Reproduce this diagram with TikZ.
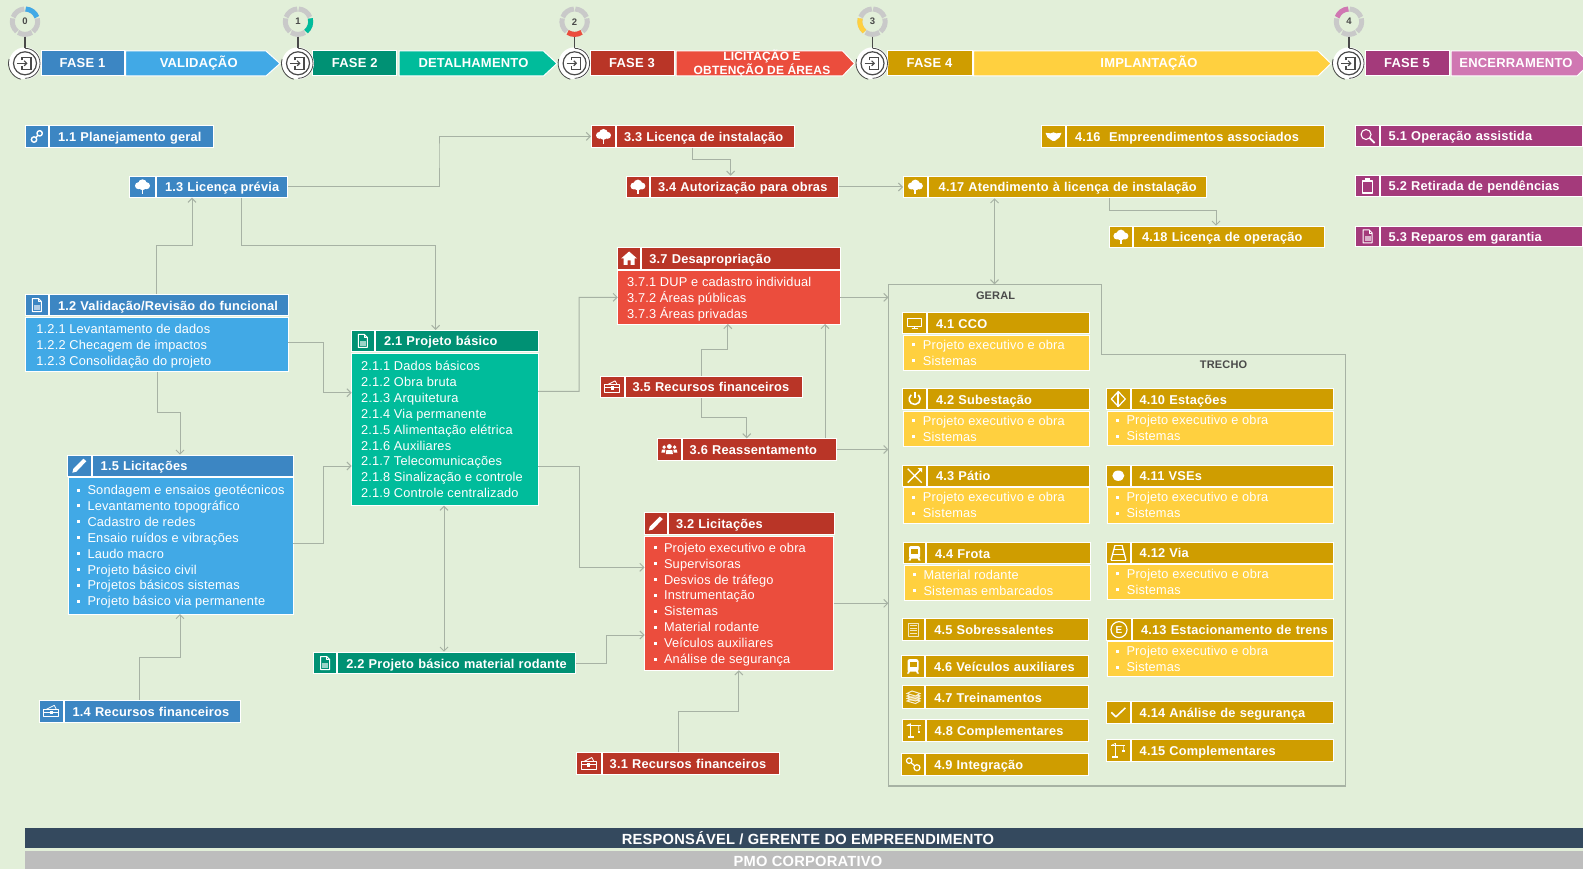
\documentclass[tikz,border=0pt]{standalone}
\usepackage{fontspec}
\setmainfont[LetterSpace=1.5]{Liberation Sans}
\usetikzlibrary{arrows.meta}

\definecolor{pagebg}{HTML}{E2EFD9}
\definecolor{bluehead}{HTML}{3C86C3}
\definecolor{bluebody}{HTML}{41A9E6}
\definecolor{greenhead}{HTML}{009174}
\definecolor{greenbody}{HTML}{00BC9B}
\definecolor{redhead}{HTML}{B93527}
\definecolor{redbody}{HTML}{EB4D3D}
\definecolor{goldhead}{HTML}{CF9D00}
\definecolor{goldbody}{HTML}{FFD03F}
\definecolor{purplehead}{HTML}{A43A7B}
\definecolor{purplebody}{HTML}{D077B2}
\definecolor{linegray}{HTML}{A7B2A4}
\definecolor{ringgray}{HTML}{C9C9C9}
\definecolor{stagedark}{HTML}{4A4A4A}
\definecolor{footdark}{HTML}{34495E}
\definecolor{footgray}{HTML}{BDBDBD}

\tikzset{
  taskframe/.style={fill=white,draw=none,inner sep=0pt,outer sep=0pt},
  iconcell/.style={draw=none,inner sep=0pt,outer sep=0pt},
  labelcell/.style={draw=none,inner ysep=0pt,outer sep=0pt,align=left,text=white,text height=10pt,text depth=0pt,
    font=\fontsize{12.8}{15.9}\selectfont\bfseries},
  bodycell/.style={draw=white,line width=1pt,inner ysep=0pt,outer sep=0pt,align=left,text=white,
    font=\fontsize{12.8}{15.9}\selectfont},
  phasecell/.style={draw=white,line width=1pt,inner sep=0pt,outer sep=0pt,minimum height=25pt,text=white,
    font=\fontsize{13}{13.4}\selectfont\bfseries},
  phasetext/.style={inner sep=0pt,align=center,text=white,font=\fontsize{13}{13.2}\selectfont\bfseries},
  flow/.style={draw=linegray,line width=1pt,-{Straight Barb[length=4pt,width=8pt]}},
  flowboth/.style={draw=linegray,line width=1pt,{Straight Barb[length=4pt,width=8pt]}-{Straight Barb[length=4pt,width=8pt]}},
  groupframe/.style={draw=linegray,line width=1.2pt},
  grouptitle/.style={inner sep=0pt,text=stagedark,font=\fontsize{11}{12}\selectfont\bfseries},
  stagenode/.style={circle,fill=white,draw=stagedark,line width=1.2pt,minimum size=23pt,inner sep=0pt,outer sep=0pt},
  ringnode/.style={circle,inner sep=0pt,outer sep=0pt,minimum size=30pt,text=stagedark,font=\fontsize{9.5}{10}\selectfont\bfseries},
  iconline/.style={draw=white,line width=1pt,line join=round},
  footbar/.style={inner sep=0pt,outer sep=0pt,text=white,font=\fontsize{14.7}{15}\selectfont\bfseries},
  pics/stagearcs/.style={code={
    \fill[white] (0,0) circle (16);
    \draw[stagedark,line width=.8pt] (-90:15) arc (-90:90:15);
    \draw[stagedark,line width=.8pt] (105:16.5) arc (105:195:16.5);
  }},
  pics/stageicon/.style={code={
    \draw[stagedark,line width=1.2pt] (-3,-3) -- (-3,-6) -- (6,-6) -- (6,6) -- (-3,6) -- (-3,3);
    \draw[stagedark,line width=1.2pt,-{Straight Barb[length=2.5pt,width=5pt]}] (-8,0) -- (2.5,0);
  }},
  pics/icontree/.style={code={
    \fill[white] (-4,-1) circle (3.5) (4,-1) circle (3.5) (0,-3) circle (4.4) (0,0) circle (3.5);
    \fill[white] (-.9,0) rectangle (.9,7.5);
  }},
  pics/icondoc/.style={code={
    \draw[iconline] (-4.5,-6.5) -- (1.5,-6.5) -- (4.5,-3.5) -- (4.5,6.5) -- (-4.5,6.5) -- cycle;
    \draw[iconline,line width=.6pt] (1.5,-6.5) -- (1.5,-3.5) -- (4.5,-3.5);
    \fill[white,opacity=.6] (-3,0) rectangle (3,5);
  }},
  pics/iconlink/.style={code={
    \draw[iconline,line width=1.4pt] (2.8,-3) circle (2.7) (-2.8,3.2) circle (2.7);
    \draw[iconline,line width=1.4pt] (-1,1.2) -- (1,-1);
  }},
  pics/iconpencil/.style={code={
    \fill[white] (-7,7) -- (-6,3) -- (4,-7) -- (7,-4.5) -- (-3,6) -- cycle;
  }},
  pics/iconmoney/.style={code={
    \draw[iconline,line width=.8pt] (-7.5,-2) rectangle (7.5,5.5);
    \draw[iconline,line width=.8pt] (-5,-2) -- (3,-6) -- (5,-2);
    \draw[iconline,line width=.8pt] (-7.5,.8) -- (7.5,.8);
    \fill[white] (-1.5,-.5) rectangle (1.5,3);
  }},
  pics/iconhouse/.style={code={
    \fill[white] (0,-7) -- (8,0) -- (5.5,0) -- (5.5,6.5) -- (1.5,6.5) -- (1.5,2) -- (-1.5,2) -- (-1.5,6.5) -- (-5.5,6.5) -- (-5.5,0) -- (-8,0) -- cycle;
  }},
  pics/iconpeople/.style={code={
    \fill[white] (0,-3) circle (2.4) (-5.2,-2.4) circle (1.9) (5.2,-2.4) circle (1.9);
    \fill[white] (-3.5,4.5) -- (-3,.5) -- (3,.5) -- (3.5,4.5) -- cycle;
    \fill[white] (-8,3) -- (-7.4,0) -- (-4,0) -- (-4.3,3) -- cycle (8,3) -- (7.4,0) -- (4,0) -- (4.3,3) -- cycle;
  }},
  pics/iconscreen/.style={code={
    \draw[iconline] (-7,-5) rectangle (7,3);
    \draw[iconline] (0,3) -- (0,5.5) (-3,5.5) -- (3,5.5);
  }},
  pics/iconpower/.style={code={
    \draw[iconline,line width=1.6pt] (-50:5.5) arc (-50:230:5.5);
    \draw[iconline,line width=1.6pt] (0,-7) -- (0,-1);
  }},
  pics/iconcross/.style={code={
    \draw[iconline,line width=1.4pt] (-7,-7) -- (7,7) (7,-7) -- (-7,7);
    \fill[white] (3,-7.5) -- (7.5,-7.5) -- (7.5,-3) -- cycle;
  }},
  pics/icontrain/.style={code={
    \fill[white,rounded corners=2pt] (-5.5,-7) rectangle (5.5,5.5);
    \fill[goldhead] (-3.5,-4.5) rectangle (3.5,.5);
    \fill[white] (-5,5) -- (-6,7.5) -- (-4,7.5) -- (-3,5) -- cycle (5,5) -- (6,7.5) -- (4,7.5) -- (3,5) -- cycle;
  }},
  pics/iconlist/.style={code={
    \draw[iconline,line width=.7pt,white!75!goldhead] (-5,-6.5) rectangle (5,6.5);
    \foreach \y in {-4,-1.5,1,3.5}
      \draw[iconline,line width=.7pt,white!75!goldhead] (-3.5,\y) -- (3.5,\y);
  }},
  pics/iconbooks/.style={code={
    \foreach \y in {4,1.5,-1,-3.5}
      \draw[white!85!goldhead,fill=goldhead,line width=1pt] (-6.5,\y) -- (2,\y+2.5) -- (6.5,\y) -- (-1.5,\y-2.5) -- cycle;
    \fill[white!85!goldhead,opacity=.5] (-6,-1) rectangle (6,4);
  }},
  pics/iconcrane/.style={code={
    \draw[iconline,line width=1.4pt] (-7,-5) -- (7,-5) (-3,-7) -- (-3,6.5) (-6,6.5) -- (0,6.5);
    \draw[iconline,line width=.7pt] (5,-5) -- (5,0) (-3,-7) -- (-7,-5);
    \fill[white] (4,0) rectangle (6.5,2);
  }},
  pics/iconchain/.style={code={
    \draw[iconline,line width=1.2pt] (-4,-3.5) circle (2.7) (3.8,3.5) circle (3);
    \draw[iconline,line width=1.2pt] (-2,-1.5) -- (1.5,1.5);
  }},
  pics/iconstation/.style={code={
    \draw[iconline,line width=1.2pt] (0,-7.5) -- (7,0) -- (0,7.5) -- (-7,0) -- cycle;
    \draw[iconline,line width=2pt] (0,-7.5) -- (0,7.5);
  }},
  pics/icondot/.style={code={
    \fill[white] (0,0) ellipse (6 and 5.2);
  }},
  pics/icontrack/.style={code={
    \draw[iconline,line width=1.3pt] (-3.5,-7.5) -- (-7.5,7.5) (3.5,-7.5) -- (7.5,7.5);
    \draw[iconline,line width=1.3pt] (-3.5,-7.5) -- (3.5,-7.5) (-4.6,-3) -- (4.6,-3) (-6,2) -- (6,2) (-7.5,7.5) -- (7.5,7.5);
  }},
  pics/iconeuro/.style={code={
    \node[circle,draw=white,line width=1.2pt,inner sep=0pt,minimum size=16pt,text=white,font=\fontsize{10}{10}\selectfont\bfseries] (#1) {E};
  }},
  pics/iconcheck/.style={code={
    \draw[iconline,line width=1.5pt] (-7,0) -- (-2.5,4.5) -- (7,-4.5);
  }},
  pics/iconhands/.style={code={
    \fill[white] (-8,-3.5) -- (-3,-3) -- (0,-4) -- (3,-3) -- (8,-3.5) -- (6,1) -- (1.5,4.5) -- (-1,4.5) -- (-6,1) -- cycle;
  }},
  pics/iconsearch/.style={code={
    \draw[iconline,line width=1.1pt] (-1.5,-1.5) circle (5);
    \draw[iconline,line width=1.8pt] (2,2) -- (7,7);
  }},
  pics/iconclip/.style={code={
    \draw[iconline,line width=1.3pt] (-5,-5) rectangle (5,7);
    \fill[white] (-2.5,-7.5) rectangle (2.5,-3.5);
  }},
}

% header: name, x left, x split, x right, y top, y bottom, colour, icon, label
\newcommand{\taskhead}[9]{
  \pgfmathsetmacro{\lw}{#4-#3-1}
  \pgfmathsetmacro{\tw}{\lw-16}
  \node[taskframe,minimum width={#4-#2+2},minimum height={#6-#5+2}] (#1) at ({(#2+#4)/2},{(#5+#6)/2}) {};
  \node[iconcell,fill=#7,minimum width={#3-#2-1},minimum height={#6-#5}] (#1i) at ({(#2+#3-1)/2},{(#5+#6)/2}) {};
  \pic at (#1i) {#8};
  \node[labelcell,fill=#7,inner xsep=8pt,text width=\tw pt,minimum height={#6-#5}] (#1l) at ({(#3+1+#4)/2},{(#5+#6)/2}) {\mbox{#9}};
}
% body: name, x left, x right, y top, y bottom, colour, pad, drop, lines
\newcommand{\taskbody}[9]{
  \pgfmathsetmacro{\tw}{#3-#2-#7}
  \node[bodycell,fill=#6,inner xsep=0pt,minimum width={#3-#2},minimum height={#5-#4}] (#1) at ({(#2+#3)/2},{(#4+#5)/2}) {\hspace*{#7pt}\begin{minipage}{\tw pt}\vspace*{#8pt}\raggedright\leavevmode #9\end{minipage}};
}
\newcommand{\bul}{\raisebox{3pt}{\rule{3pt}{3pt}}\hspace{7.5pt}}
\newcommand{\pesist}{\bul Projeto executivo e obra\\\bul Sistemas}

\begin{document}
\begin{tikzpicture}[x=1pt,y=-1pt]
\useasboundingbox (0,0) rectangle (1583,869);
\fill[pagebg] (0,0) rectangle (1583,869);

% phase bar
\node[phasecell,fill=bluehead,minimum width=83pt] (f1) at (82.5,63.5) {FASE 1};
\draw[white,line width=1pt,fill=bluebody] (125.7,51) -- (266,51) -- (280,63.5) -- (266,76) -- (125.7,76) -- cycle;
\node[phasetext] (v1) at (198.7,63.5) {VALIDAÇÃO};

\node[phasecell,fill=greenhead,minimum width=84pt] (f2) at (354.7,63.5) {FASE 2};
\draw[white,line width=1pt,fill=greenbody] (399,51) -- (543.5,51) -- (557,63.5) -- (543.5,76) -- (399,76) -- cycle;
\node[phasetext] (v2) at (473.5,63.5) {DETALHAMENTO};

\node[phasecell,fill=redhead,minimum width=84pt] (f3) at (632,63.5) {FASE 3};
\draw[white,line width=1pt,fill=redbody] (676,51) -- (842.6,51) -- (854.5,63.5) -- (842.6,76) -- (676,76) -- cycle;
\node[phasetext,font=\fontsize{12}{13.2}\selectfont\bfseries] (v3) at (762,63.5) {LICITAÇÃO E\\OBTENÇÃO DE ÁREAS};

\node[phasecell,fill=goldhead,minimum width=85pt] (f4) at (929.5,63.5) {FASE 4};
\draw[white,line width=1pt,fill=goldbody] (973.6,51) -- (1318,51) -- (1331,63.5) -- (1318,76) -- (973.6,76) -- cycle;
\node[phasetext] (v4) at (1149,63.5) {IMPLANTAÇÃO};

\node[phasecell,fill=purplehead,minimum width=84pt] (f5) at (1407,63.5) {FASE 5};
\draw[white,line width=1pt,fill=purplebody] (1451,51) -- (1577,51) -- (1590,63.5) -- (1577,76) -- (1451,76) -- cycle;
\node[phasetext] (v5) at (1516,63.5) {ENCERRAMENTO};

% stage markers
\foreach \n/\cx/\tone/\ang in {0/25/bluebody/0,1/298/greenbody/72,2/574.6/redbody/144,3/872.5/goldbody/216,4/1349/purplebody/288} {
  \node[ringnode] (r\n) at (\cx,21.7) {\n};
  \begin{scope}[shift={(\cx,21.7)}]
    \foreach \a in {-54,18,90,162,234}
      \draw[ringgray,line width=5pt] (\a-33:12.7) arc (\a-33:\a+33:12.7);
    \draw[\tone,line width=5pt] (\ang-54-33:12.7) arc (\ang-54-33:\ang-54+33:12.7);
  \end{scope}
  \pic at (\cx,63.3) {stagearcs};
  \node[stagenode] (s\n) at (\cx,63.3) {};
  \pic at (s\n) {stageicon};
  \draw[stagedark,line width=1.1pt] (r\n.south) -- (\cx,48.3);
}

% group outline
\coordinate (fa) at (888.4,284.3);
\coordinate (fb) at (1101.6,284.3);
\coordinate (fc) at (1101.6,354.3);
\coordinate (fd) at (1345.6,354.3);
\coordinate (fe) at (1345.6,786);
\coordinate (ff) at (888.4,786);
\draw[groupframe] (fa) -- (fb) -- (fc) -- (fd) -- (fe) -- (ff) -- cycle;
\node[grouptitle] (geral) at (995.6,296) {GERAL};
\node[grouptitle] (trecho) at (1223.6,365) {TRECHO};

% fase 1
\taskhead{t11}{25.7}{49}{213}{126}{146.7}{bluehead}{iconlink}{1.1 Planejamento geral}
\taskhead{t13}{130}{156}{287}{176.7}{196.7}{bluehead}{icontree}{1.3 Licença prévia}
\taskhead{t12}{25.7}{49}{288}{295}{315}{bluehead}{icondoc}{1.2 Validação/Revisão do funcional}
\taskbody{b12}{25.7}{288}{317.3}{371.7}{bluebody}{10.7}{4}{1.2.1 Levantamento de dados\\1.2.2 Checagem de impactos\\1.2.3 Consolidação do projeto}
\taskhead{t15}{68}{91.7}{293}{455.7}{475.7}{bluehead}{iconpencil}{1.5 Licitações}
\taskbody{b15}{68}{293}{477.7}{614}{bluebody}{9}{2}{\bul Sondagem e ensaios geotécnicos\\\bul Levantamento topográfico\\\bul Cadastro de redes\\\bul Ensaio ruídos e vibrações\\\bul Laudo macro\\\bul Projeto básico civil\\\bul Projetos básicos sistemas\\\bul Projeto básico via permanente}
\taskhead{t14}{40}{63.6}{239.7}{701}{721.7}{bluehead}{iconmoney}{1.4 Recursos financeiros}

% fase 2
\taskhead{t21}{351.6}{375}{538}{331}{350.7}{greenhead}{icondoc}{2.1 Projeto básico}
\taskbody{b21}{351.6}{538}{353.3}{505.7}{greenbody}{9.4}{0}{2.1.1 Dados básicos\\2.1.2 Obra bruta\\2.1.3 Arquitetura\\2.1.4 Via permanente\\2.1.5 Alimentação elétrica\\2.1.6 Auxiliares\\2.1.7 Telecomunicações\\2.1.8 Sinalização e controle\\2.1.9 Controle centralizado}
\taskhead{t22}{314}{337.3}{575.4}{652.7}{673.3}{greenhead}{icondoc}{2.2 Projeto básico material rodante}

% fase 3
\taskhead{t33}{592}{616}{794}{126}{146.7}{redhead}{icontree}{\hspace*{-1pt}3.3 Licença de instalação}
\taskhead{t34}{626.8}{650}{837.5}{176.7}{197.3}{redhead}{icontree}{\hspace*{-1pt}3.4 Autorização para obras}
\taskhead{t37}{617.8}{641.4}{840}{248.3}{268.7}{redhead}{iconhouse}{\hspace*{-1pt}3.7 Desapropriação}
\taskbody{b37}{617.8}{840}{270.7}{324}{redbody}{9.2}{3}{3.7.1 DUP e cadastro individual\\3.7.2 Áreas públicas\\3.7.3 Áreas privadas}
\taskhead{t35}{600.7}{624.6}{802}{376.7}{397}{redhead}{iconmoney}{\hspace*{-1pt}3.5 Recursos financeiros}
\taskhead{t36}{658}{681.7}{836}{439.3}{459.7}{redhead}{iconpeople}{\hspace*{-1pt}3.6 Reassentamento}
\taskhead{t32}{644.5}{668}{833.7}{513.3}{533.7}{redhead}{iconpencil}{\hspace*{-1pt}3.2 Licitações}
\taskbody{b32}{644.5}{833.7}{536}{670.3}{redbody}{9}{3}{\bul Projeto executivo e obra\\\bul Supervisoras\\\bul Desvios de tráfego\\\bul Instrumentação\\\bul Sistemas\\\bul Material rodante\\\bul Veículos auxiliares\\\bul Análise de segurança}
\taskhead{t31}{577}{601.7}{779}{753.3}{773.7}{redhead}{iconmoney}{\hspace*{-1pt}3.1 Recursos financeiros}

% fase 4
\taskhead{t416}{1042}{1066}{1324.4}{126}{146.7}{goldhead}{iconhands}{4.16~ Empreendimentos associados}
\taskhead{t417}{904}{927.7}{1205.6}{176.7}{197.3}{goldhead}{icontree}{\hspace*{2pt}4.17 Atendimento à licença de instalação}
\taskhead{t418}{1109.8}{1133}{1324.4}{226.7}{247.3}{goldhead}{icontree}{4.18 Licença de operação}
\taskhead{t41}{903.4}{927}{1089}{313.3}{333.3}{goldhead}{iconscreen}{4.1 CCO}
\taskbody{b41}{903.4}{1089}{335.3}{370}{goldbody}{9}{0}{\pesist}
\taskhead{t42}{903.4}{927}{1089}{389}{409}{goldhead}{iconpower}{4.2 Subestação}
\taskbody{b42}{903.4}{1089}{411}{446}{goldbody}{9}{0}{\pesist}
\taskhead{t43}{903.4}{927}{1089}{465.7}{485.7}{goldhead}{iconcross}{4.3 Pátio}
\taskbody{b43}{903.4}{1089}{487.7}{523}{goldbody}{9}{0}{\pesist}
\taskhead{t44}{904}{926}{1090}{542.7}{563.3}{goldhead}{icontrain}{4.4 Frota}
\taskbody{b44}{904}{1090}{565}{600}{goldbody}{9}{0}{\bul Material rodante\\\bul Sistemas embarcados}
\taskhead{t45}{902.7}{925.3}{1087.7}{619}{640}{goldhead}{iconlist}{4.5 Sobressalentes}
\taskhead{t46}{902}{925}{1087.7}{655.7}{676.7}{goldhead}{icontrain}{4.6 Veículos auxiliares}
\taskhead{t47}{902.7}{925.3}{1087.7}{686.3}{707.7}{goldhead}{iconbooks}{4.7 Treinamentos}
\taskhead{t48}{902.7}{925.7}{1087.7}{720.3}{741}{goldhead}{iconcrane}{4.8 Complementares}
\taskhead{t49}{902}{925.3}{1087.7}{753.7}{774.7}{goldhead}{iconchain}{4.9 Integração}
\taskhead{t410}{1107}{1130.6}{1333}{389}{409}{goldhead}{iconstation}{4.10 Estações}
\taskbody{b410}{1107}{1333}{411}{445.3}{goldbody}{9}{0}{\pesist}
\taskhead{t411}{1107}{1130.6}{1333}{465.7}{485.7}{goldhead}{icondot}{4.11 VSEs}
\taskbody{b411}{1107}{1333}{487.7}{523}{goldbody}{9}{0}{\pesist}
\taskhead{t412}{1107.3}{1130.7}{1333}{542.7}{562.7}{goldhead}{icontrack}{4.12 Via}
\taskbody{b412}{1107.3}{1333}{564.3}{599.3}{goldbody}{9}{0}{\pesist}
\taskhead{t413}{1107}{1132}{1333}{619.3}{640}{goldhead}{iconeuro=ee}{4.13 Estacionamento de trens}
\taskbody{b413}{1107}{1333}{641.7}{676.7}{goldbody}{9}{0}{\pesist}
\taskhead{t414}{1107}{1130.7}{1333}{702}{722.7}{goldhead}{iconcheck}{4.14 Análise de segurança}
\taskhead{t415}{1107}{1130.7}{1333}{740}{760.7}{goldhead}{iconcrane}{4.15 Complementares}

% fase 5
\taskhead{t51}{1356.4}{1379.7}{1581.5}{126}{146}{purplehead}{iconsearch}{5.1 Operação assistida}
\taskhead{t52}{1356.4}{1379.7}{1581.5}{176}{196}{purplehead}{iconclip}{5.2 Retirada de pendências}
\taskhead{t53}{1356.4}{1379.7}{1581.5}{226.7}{246}{purplehead}{icondoc}{5.3 Reparos em garantia}

% connectors
\draw[flow] (t13.east) -| (439,150) |- (t33.west);
\draw[flow] (t13.south -| 241.7,0) |- (435.6,246) -- (t21.north -| 435.6,0);
\draw[flow] (t12.north -| 156.4,0) |- (192,246) -- (t13.south -| 192,0);
\draw[flow] (b12.east |- 0,342.7) -| (323,392.7) -- (b21.west |- 0,392.7);
\draw[flow] (b12.south -| 157,0) |- (180,412.7) -- (t15.north -| 180,0);
\draw[flow] (b15.east |- 0,543.3) -| (323,466) -- (b21.west |- 0,466);
\draw[flow] (t14.north -| 139.3,0) |- (180,657.3) -- (b15.south -| 180,0);
\draw[flowboth] (b21.south -| 444,0) -- (t22.north -| 444,0);
\draw[flow] (t22.east) -| (606.6,635) -- (b32.west |- 0,635);
\draw[flow] (b21.east |- 0,391.3) -| (579,297.3) -- (b37.west);
\draw[flow] (b21.east |- 0,466.3) -| (579,567.3) -- (b32.west |- 0,567.3);
\draw[flow] (t31.north -| 678,0) |- (738.8,711.7) -- (b32.south -| 738.8,0);
\draw[flow] (t33.south -| 692.8,0) |- (730.6,159.7) -- (t34.north -| 730.6,0);
\draw[flow] (t34.east) -- (t417.west);
\draw[flowboth] (t417.south -| 994.5,0) -- (fa -| 994.5,0);
\draw[flow] (t417.south -| 1109.4,0) |- (1216,210.7) -- (t418.north -| 1216,0);
\draw[flow] (t35.north -| 701,0) |- (727.8,349.3) -- (b37.south -| 727.8,0);
\draw[flow] (t35.south -| 701,0) |- (746.7,417.3) -- (t36.north -| 746.7,0);
\draw[flow] (t36.north -| 825,0) -- (b37.south -| 825,0);
\draw[flow] (b37.east) -- (fa |- b37.east);
\draw[flow] (t36.east) -- (fa |- t36.east);
\draw[flow] (b32.east |- 0,603.3) -- (fa |- 0,603.3);

% footer
\fill[footdark] (24.7,828) rectangle (1583,848.3);
\fill[footgray] (24.7,851) rectangle (1583,869);
\node[footbar] (resp) at (808,838.2) {RESPONSÁVEL / GERENTE DO EMPREENDIMENTO};
\node[footbar] (pmo) at (808,861) {PMO CORPORATIVO};

\end{tikzpicture}
\end{document}
